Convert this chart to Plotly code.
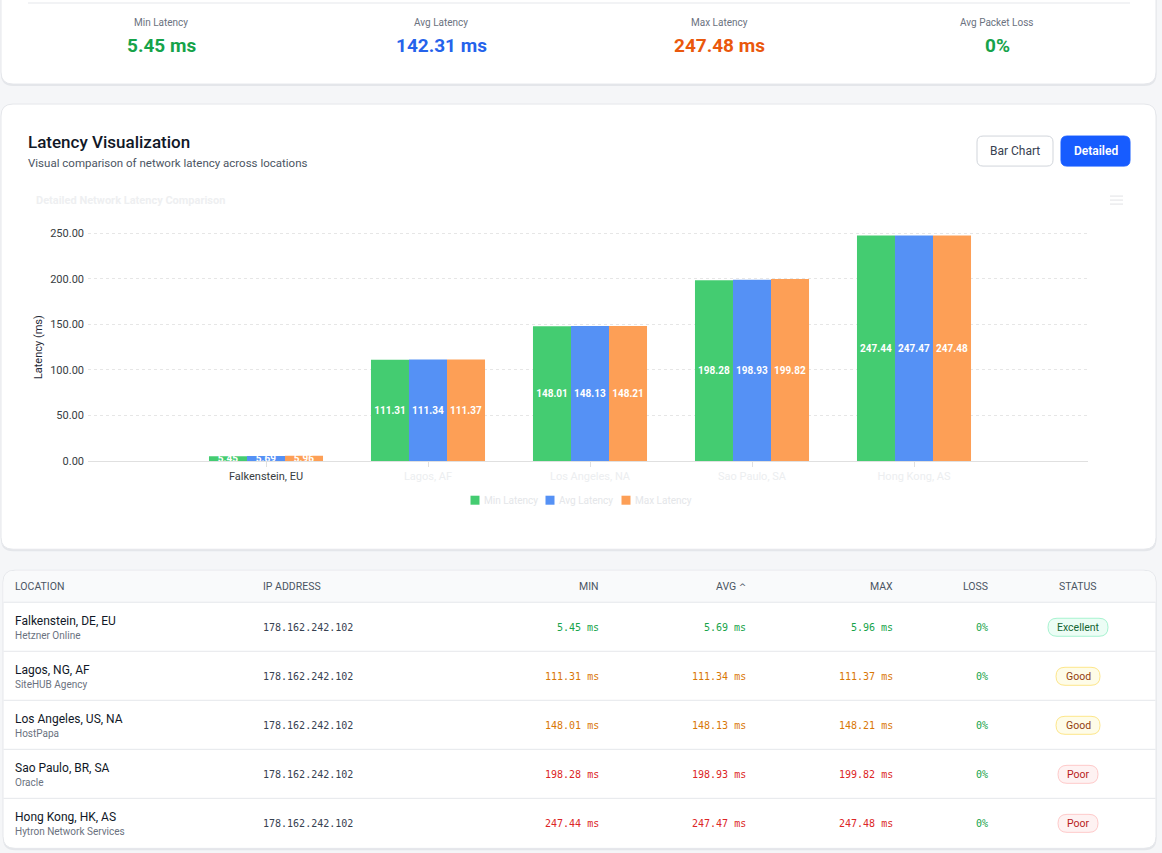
import plotly.graph_objects as go

W, H = 1162, 853

# ---------------- data ----------------
chart_categories = ["Falkenstein, EU", "Lagos, AF", "Los Angeles, NA", "Sao Paulo, SA", "Hong Kong, AS"]
min_latency = [5.45, 111.31, 148.01, 198.28, 247.44]
avg_latency = [5.69, 111.34, 148.13, 198.93, 247.47]
max_latency = [5.96, 111.37, 148.21, 199.82, 247.48]
y_ticks = [0, 50, 100, 150, 200, 250]
series_names = ["Min Latency", "Avg Latency", "Max Latency"]

table_locations = ["Falkenstein, DE, EU", "Lagos, NG, AF", "Los Angeles, US, NA", "Sao Paulo, BR, SA", "Hong Kong, HK, AS"]
table_providers = ["Hetzner Online", "SiteHUB Agency", "HostPapa", "Oracle", "Hytron Network Services"]
table_ips = ["178.162.242.102"] * 5
table_loss = ["0%", "0%", "0%", "0%", "0%"]
table_status = ["Excellent", "Good", "Good", "Poor", "Poor"]

stat_labels = ["Min Latency", "Avg Latency", "Max Latency", "Avg Packet Loss"]
stat_values = ["5.45 ms", "142.31 ms", "247.48 ms", "0%"]
stat_colors = ["#16a34a", "#2563eb", "#ea580c", "#16a34a"]

# ---------------- helpers ----------------
K = 1.0087  # vertical correction

def px(x):
    return x / W

def py(y):
    return 1 - (y * K) / H

def rrect(x0, y0, x1, y1, r, top=True, bottom=True):
    rt = r if top else 0
    rb = r if bottom else 0
    pts = []
    pts.append(f"M {px(x0+rt)},{py(y0)}")
    pts.append(f"L {px(x1-rt)},{py(y0)}")
    if rt:
        pts.append(f"Q {px(x1)},{py(y0)} {px(x1)},{py(y0+rt)}")
    pts.append(f"L {px(x1)},{py(y1-rb)}")
    if rb:
        pts.append(f"Q {px(x1)},{py(y1)} {px(x1-rb)},{py(y1)}")
    pts.append(f"L {px(x0+rb)},{py(y1)}")
    if rb:
        pts.append(f"Q {px(x0)},{py(y1)} {px(x0)},{py(y1-rb)}")
    pts.append(f"L {px(x0)},{py(y0+rt)}")
    if rt:
        pts.append(f"Q {px(x0)},{py(y0)} {px(x0+rt)},{py(y0)}")
    pts.append("Z")
    return " ".join(pts)

shapes = []
annotations = []

def card(x0, y0, x1, y1, r=12, fill="white", line="#e5e7eb", shadow=True):
    if shadow:
        shapes.append(dict(type="path", path=rrect(x0, y0 + 1.5, x1 + 0.5, y1 + 2, r),
                           xref="paper", yref="paper", fillcolor="#e4e6ea",
                           line=dict(width=0), layer="below"))
    shapes.append(dict(type="path", path=rrect(x0, y0, x1, y1, r),
                       xref="paper", yref="paper", fillcolor=fill,
                       line=dict(color=line, width=1), layer="below"))

def hline(x0, x1, y, color="#e5e7eb", width=1):
    shapes.append(dict(type="line", x0=px(x0), x1=px(x1), y0=py(y), y1=py(y),
                       xref="paper", yref="paper", line=dict(color=color, width=width),
                       layer="below"))

def text(x, y, s, size=12, color="#111827", xanchor="left", family=None, weight=None, angle=0):
    f = dict(size=size, color=color, family=family or UI)
    if weight:
        f["weight"] = weight
    if xanchor == "left":
        x -= 1
    elif xanchor == "right":
        x += 1
    annotations.append(dict(x=px(x), y=py(y), xref="paper", yref="paper", text=s,
                            showarrow=False, xanchor=xanchor, yanchor="middle",
                            borderpad=0, textangle=angle, font=f))

UI = "Roboto"
MONO = "DejaVu Sans Mono"

# ---------------- card 1: stats ----------------
card(1, -30, 1156, 84)
hline(28, 1130, 3)
stat_x = [161, 441, 719, 997]
for cx, lab, val, col in zip(stat_x, stat_labels, stat_values, stat_colors):
    text(cx, 22, lab, size=10, color="#6b7280", xanchor="center")
    text(cx, 45, val, size=19, color=col, xanchor="center", weight=700)

# ---------------- card 2: chart ----------------
card(1, 104, 1156, 549)
text(28, 142, "Latency Visualization", size=17, color="#111827", weight=500)
text(28, 163, "Visual comparison of network latency across locations", size=11.5, color="#4b5563")

# buttons
shapes.append(dict(type="path", path=rrect(977, 136, 1053, 166, 6), xref="paper", yref="paper",
                   fillcolor="white", line=dict(color="#d1d5db", width=1), layer="below"))
text(1015, 151, "Bar Chart", size=12, color="#374151", xanchor="center")
shapes.append(dict(type="path", path=rrect(1061, 136, 1130, 166, 6), xref="paper", yref="paper",
                   fillcolor="#175cff", line=dict(color="#175cff", width=1), layer="below"))
text(1095.5, 151, "Detailed", size=12, color="white", xanchor="center", weight=600)

text(36, 200, "Detailed Network Latency Comparison", size=11, color="#eeeff1", weight=700)
for yy in (196, 200, 204):
    hline(1110, 1123, yy, color="#e6e7ea", width=1.2)

text(38, 347, "Latency (ms)", size=11, color="#1f2937", xanchor="center", angle=-90)

# ---------------- card 3: table ----------------
card(3, 570, 1156, 848)
shapes.append(dict(type="path", path=rrect(3.5, 570.5, 1155.5, 602, 12, bottom=False),
                   xref="paper", yref="paper", fillcolor="#f9fafb",
                   line=dict(width=0), layer="below"))
hline(3.5, 1155.5, 602)
for yy in (651, 700, 749, 798):
    hline(3.5, 1155.5, yy)

hdr_color = "#4b5563"
hdr_size = 10.5
text(15, 586, "LOCATION", size=hdr_size, color=hdr_color)
text(263, 586, "IP ADDRESS", size=hdr_size, color=hdr_color)
text(599, 586, "MIN", size=hdr_size, color=hdr_color, xanchor="right")
text(746, 586, "AVG <span style='font-family:DejaVu Sans;font-size:9px'>^</span>", size=hdr_size,
     color=hdr_color, xanchor="right")
text(893, 586, "MAX", size=hdr_size, color=hdr_color, xanchor="right")
text(988, 586, "LOSS", size=hdr_size, color=hdr_color, xanchor="right")
text(1078, 586, "STATUS", size=hdr_size, color=hdr_color, xanchor="center")

def val_color(v):
    if v < 50:
        return "#16a34a"
    if v < 180:
        return "#d97706"
    return "#dc2626"

badge = {
    "Excellent": dict(w=60, fill="#ecfdf5", line="#a7f3d0", color="#166534"),
    "Good": dict(w=44, fill="#fefce8", line="#fde68a", color="#92400e"),
    "Poor": dict(w=40, fill="#fef2f2", line="#fecaca", color="#b91c1c"),
}

for i in range(len(table_locations)):
    cy = 627 + 49 * i
    text(15, cy - 6, table_locations[i], size=12, color="#111827")
    text(15, cy + 8, table_providers[i], size=10, color="#6b7280")
    text(263, cy, table_ips[i], size=10, color="#374151", family=MONO)
    for xr, v in ((599, min_latency[i]), (746, avg_latency[i]), (893, max_latency[i])):
        text(xr, cy, f"{v:.2f} ms", size=10, color=val_color(v), family=MONO, xanchor="right")
    text(988, cy, table_loss[i], size=10, color="#16a34a", family=MONO, xanchor="right")
    b = badge[table_status[i]]
    shapes.append(dict(type="path", path=rrect(1078 - b["w"] / 2, cy - 9, 1078 + b["w"] / 2, cy + 9, 9),
                       xref="paper", yref="paper", fillcolor=b["fill"],
                       line=dict(color=b["line"], width=1), layer="below"))
    text(1078, cy + 0.5, table_status[i], size=10.5, color=b["color"], xanchor="center")

# ---------------- bar chart ----------------
bar_colors = {"Min Latency": "#44cc71", "Avg Latency": "#5591f5", "Max Latency": "#fd9f56"}
series = list(zip(series_names, [min_latency, avg_latency, max_latency]))

fig = go.Figure()
for name, vals in series:
    fig.add_trace(go.Bar(
        x=chart_categories, y=vals, name=name,
        marker=dict(color=bar_colors[name], line=dict(width=0)),
        texttemplate="%{y:.2f}", textposition="inside", insidetextanchor="middle",
        constraintext="none", textangle=0,
        textfont=dict(color="white", size=10, family=UI, weight=700),
        hoverinfo="skip", showlegend=False,
    ))

# legend (custom, compact like the reference)
legend_x = [475, 550, 626]
for lx, name in zip(legend_x, series_names):
    shapes.append(dict(type="rect", x0=px(lx - 4.5), x1=px(lx + 4.5), y0=py(495.5), y1=py(504.5),
                       xref="paper", yref="paper", fillcolor=bar_colors[name],
                       line=dict(width=0), layer="above"))
    text(lx + 9, 500, name, size=10, color="#e4e6e9")

tick_text = [
    f"<span style='color:#373d3f'>{c}</span>" if i == 0 else f"<span style='color:#eceef0'>{c}</span>"
    for i, c in enumerate(chart_categories)
]

# axis geometry (pixels): x plot 88..1088, y zero at 461, 250 at 233
y_top_val = 260
y_bottom_px = 461
px_per_unit = (461 - 233) / 250
y_top_px = y_bottom_px - y_top_val * px_per_unit
band = 162
x0_px, x1_px = 88, 1088
first_center = 266
xr0 = -(first_center - x0_px) / band
xr1 = xr0 + (x1_px - x0_px) / band

fig.update_layout(
    width=W, height=H,
    margin=dict(l=0, r=0, t=0, b=0),
    paper_bgcolor="#f5f6f8",
    plot_bgcolor="rgba(0,0,0,0)",
    barmode="group", bargap=0.296, bargroupgap=0,
    showlegend=False,
    xaxis=dict(domain=[px(x0_px), px(x1_px)], range=[xr0, xr1], type="category",
               tickmode="array", tickvals=chart_categories, ticktext=tick_text,
               tickfont=dict(size=11, family=UI, color="#373d3f"),
               ticks="outside", ticklen=5, tickcolor="#e0e0e0",
               showgrid=False, showline=True, linecolor="#e0e0e0", linewidth=1,
               zeroline=False, fixedrange=True),
    yaxis=dict(domain=[py(y_bottom_px), py(y_top_px)], range=[0, y_top_val],
               tickmode="array", tickvals=y_ticks, tickformat=".2f",
               tickfont=dict(size=11, family=UI, color="#373d3f"),
               ticklabelstandoff=3,
               showgrid=True, gridcolor="#e6e6e6", griddash="3px,3px", gridwidth=1,
               zeroline=False, showline=False, ticks="", fixedrange=True),
    shapes=shapes,
    annotations=annotations,
    font=dict(family=UI),
)

fig.write_html("out.html", config={"displayModeBar": False})
